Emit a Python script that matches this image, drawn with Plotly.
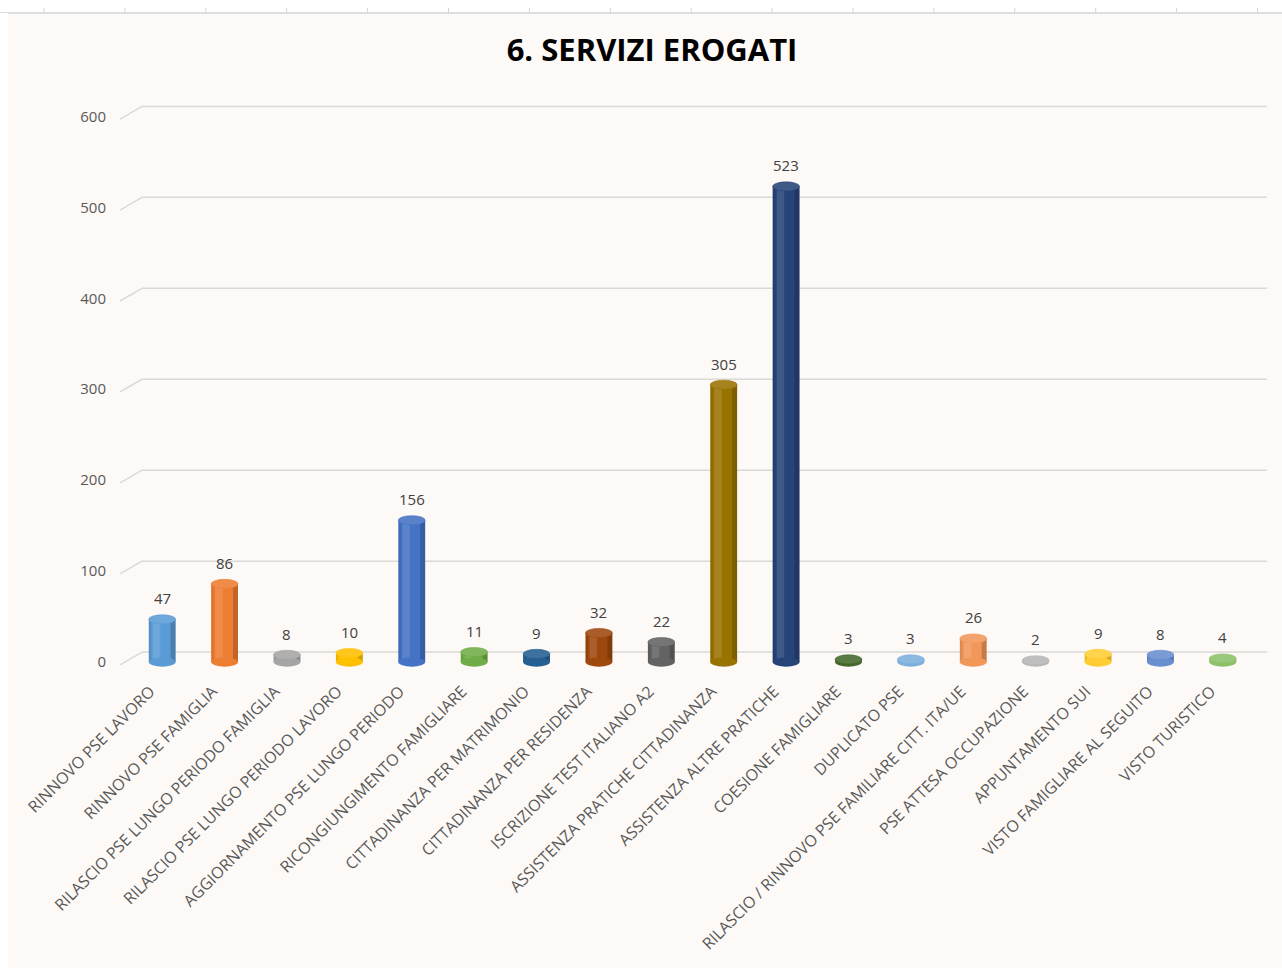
import plotly.graph_objects as go

categories = [
    "RINNOVO PSE LAVORO",
    "RINNOVO PSE FAMIGLIA",
    "RILASCIO PSE LUNGO PERIODO FAMIGLIA",
    "RILASCIO PSE LUNGO PERIODO LAVORO",
    "AGGIORNAMENTO PSE LUNGO PERIODO",
    "RICONGIUNGIMENTO FAMIGLIARE",
    "CITTADINANZA PER MATRIMONIO",
    "CITTADINANZA PER RESIDENZA",
    "ISCRIZIONE TEST ITALIANO A2",
    "ASSISTENZA PRATICHE CITTADINANZA",
    "ASSISTENZA ALTRE PRATICHE",
    "COESIONE FAMIGLIARE",
    "DUPLICATO PSE",
    "RILASCIO / RINNOVO PSE FAMILIARE CITT. ITA/UE",
    "PSE ATTESA OCCUPAZIONE",
    "APPUNTAMENTO SUI",
    "VISTO FAMIGLIARE AL SEGUITO",
    "VISTO TURISTICO",
]
values = [47, 86, 8, 10, 156, 11, 9, 32, 22, 305, 523, 3, 3, 26, 2, 9, 8, 4]
colors = ["#5B9BD5", "#ED7D31", "#A5A5A5", "#FFC000", "#4472C4", "#70AD47",
          "#255E91", "#9E480E", "#636363", "#997300", "#264478", "#43682B",
          "#7CAFDD", "#F1975A", "#B7B7B7", "#FFCD33", "#698ED0", "#8CC168"]
yticks = [0, 100, 200, 300, 400, 500, 600]

BG = "#FDF9F6"
W, H = 1282, 971
L, R, T, B = 131, 28, 80, 298
PW, PH = W - L - R, H - T - B
N = len(categories)
BW = 0.43


def lighten(hx, f):
    r, g, b = int(hx[1:3], 16), int(hx[3:5], 16), int(hx[5:7], 16)
    r, g, b = [int(c + (255 - c) * f) for c in (r, g, b)]
    return f"rgb({r},{g},{b})"


def px_x(p):
    return (p - L) / PW


def px_y(p):
    return (H - B - p) / PH


fig = go.Figure()
# main cylinder body
fig.add_trace(go.Bar(x=categories, y=values, marker=dict(color=colors, line=dict(width=0)),
                     width=BW, offset=-BW / 2, hoverinfo="x+y", showlegend=False))
# highlight stripe
fig.add_trace(go.Bar(x=categories, y=values, marker=dict(color="rgba(255,255,255,0.12)", line=dict(width=0)),
                     width=0.12, offset=-0.15, hoverinfo="skip", showlegend=False))
# dark right edge
fig.add_trace(go.Bar(x=categories, y=values, marker=dict(color="rgba(0,0,0,0.18)", line=dict(width=0)),
                     width=0.08, offset=BW / 2 - 0.08, hoverinfo="skip", showlegend=False))
# dark left edge
fig.add_trace(go.Bar(x=categories, y=values, marker=dict(color="rgba(0,0,0,0.08)", line=dict(width=0)),
                     width=0.04, offset=-BW / 2, hoverinfo="skip", showlegend=False))

shapes = []
# gridlines (3D back wall look)
for v in yticks:
    shapes.append(dict(type="line", xref="paper", yref="y", x0=px_x(142), x1=px_x(1267),
                       y0=v + 11, y1=v + 11, line=dict(color="#D9D9D9", width=1.5), layer="below"))
    shapes.append(dict(type="line", xref="paper", yref="y", x0=px_x(120), x1=px_x(142),
                       y0=v - 3, y1=v + 11, line=dict(color="#D9D9D9", width=1.5), layer="below"))
# cylinder ends
for i, (v, c) in enumerate(zip(values, colors)):
    shapes.append(dict(type="circle", xref="x", yref="y", x0=i - BW / 2, x1=i + BW / 2,
                       y0=-5, y1=5, fillcolor=c, line=dict(width=0), layer="above"))
    shapes.append(dict(type="circle", xref="x", yref="y", x0=i - BW / 2, x1=i + BW / 2,
                       y0=v - 5, y1=v + 5, fillcolor=lighten(c, 0.12),
                       line=dict(width=0.6, color=c), layer="above"))
# white page strips around the chart
shapes.append(dict(type="rect", xref="paper", yref="paper", x0=px_x(-5), x1=px_x(W + 5),
                   y0=px_y(13), y1=px_y(-5), fillcolor="white", line=dict(width=0)))
shapes.append(dict(type="line", xref="paper", yref="paper", x0=px_x(-5), x1=px_x(W + 5),
                   y0=px_y(13), y1=px_y(13), line=dict(color="#D4D4D4", width=1.5)))
for k in range(16):
    xp = 44 + 80.9 * k
    shapes.append(dict(type="line", xref="paper", yref="paper", x0=px_x(xp), x1=px_x(xp),
                       y0=px_y(13), y1=px_y(8), line=dict(color="#D4D4D4", width=1)))
shapes.append(dict(type="rect", xref="paper", yref="paper", x0=px_x(-5), x1=px_x(8),
                   y0=px_y(H + 5), y1=px_y(13), fillcolor="white", line=dict(width=0)))
shapes.append(dict(type="rect", xref="paper", yref="paper", x0=px_x(-5), x1=px_x(W + 5),
                   y0=px_y(H + 5), y1=px_y(968), fillcolor="white", line=dict(width=0)))

annotations = []
for cat, v in zip(categories, values):
    annotations.append(dict(x=cat, y=v, xref="x", yref="y", text=str(v), showarrow=False,
                            yanchor="bottom", yshift=9,
                            font=dict(family="Open Sans", size=15, color="#404040")))

fig.update_layout(
    width=W, height=H,
    margin=dict(l=L, r=R, t=T, b=B, autoexpand=False),
    paper_bgcolor=BG, plot_bgcolor=BG,
    barmode="overlay",
    title=dict(text="<b>6. SERVIZI EROGATI</b>", x=652 / W, xref="container", xanchor="center",
               y=1 - 50 / H, yref="container", yanchor="middle",
               font=dict(family="Open Sans", size=31, color="#000000")),
    xaxis=dict(type="category", range=[-0.5, N - 0.5],
               tickangle=-45, tickfont=dict(family="Open Sans", size=16, color="#595959"),
               showgrid=False, zeroline=False, showline=False, ticks="",
               ticklabelstandoff=5, ticklabelshift=-12),
    yaxis=dict(range=[-12, 640], tickvals=yticks, showgrid=False, zeroline=False, showline=False,
               ticks="", tickfont=dict(family="Open Sans", size=15, color="#595959"),
               ticklabelstandoff=24),
    shapes=shapes,
    annotations=annotations,
)

fig.write_html("out.html", post_script="document.body.style.margin='0';",
               config={"displayModeBar": False})
